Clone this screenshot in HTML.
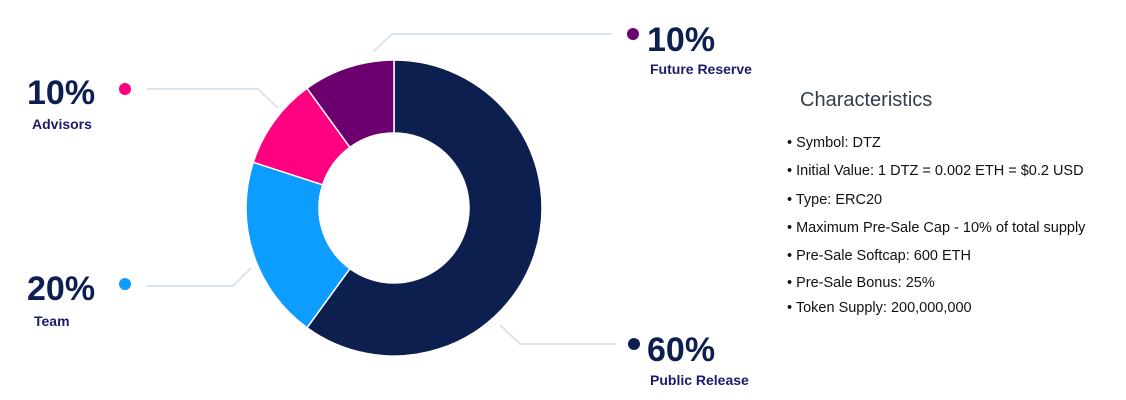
<!DOCTYPE html>
<html><head><meta charset="utf-8"><style>
body{margin:0;background:#fff;width:1126px;height:400px;overflow:hidden;font-family:"Liberation Sans",sans-serif}
svg{display:block}
.pct{font-size:34px;font-weight:bold;fill:#0c1f4f}
.lbl{font-size:14px;font-weight:bold;fill:#1b1b6b}
.item{font-size:14.5px;fill:#111}
</style></head><body>
<svg width="1126" height="400">
<g id="slices"></g>
<g fill="none" stroke="#dde5ec" stroke-width="2">
<polyline points="147,89 258,89 278,108"/>
<polyline points="147,286 233,286 251,268"/>
<polyline points="373,52 392,34 612,34"/>
<polyline points="500,325 520,344 615,344"/>
</g>
<g><circle cx="125" cy="89" r="6" fill="#ff0080"/><text class="pct" x="27" y="104">10%</text><text class="lbl" x="32" y="129">Advisors</text></g>
<g><circle cx="125" cy="284" r="6" fill="#0d9cff"/><text class="pct" x="27" y="300">20%</text><text class="lbl" x="34" y="326">Team</text></g>
<g><circle cx="633" cy="34" r="6" fill="#6b006e"/><text class="pct" x="647" y="51">10%</text><text class="lbl" x="650" y="74">Future Reserve</text></g>
<g><circle cx="634" cy="344" r="6" fill="#0c1f4f"/><text class="pct" x="647" y="361">60%</text><text class="lbl" x="650" y="385">Public Release</text></g>
<text x="800" y="106" font-size="20" fill="#333d4d">Characteristics</text>
<g class="item">
<text class="item" x="787" y="147">• Symbol:  DTZ</text>
<text class="item" x="787" y="175">• Initial Value:  1 DTZ = 0.002 ETH = $0.2 USD</text>
<text class="item" x="787" y="204">• Type: ERC20</text>
<text class="item" x="787" y="232">•  Maximum Pre-Sale Cap - 10% of total supply</text>
<text class="item" x="787" y="260">•  Pre-Sale Softcap:  600 ETH</text>
<text class="item" x="787" y="287">• Pre-Sale Bonus: 25%</text>
<text class="item" x="787" y="312">• Token Supply: 200,000,000</text>
</g>
</svg>
<script>
const categories=["Public Release","Team","Advisors","Future Reserve"];
const values=[60,20,10,10];
const colors=["#0c1f4f","#0d9cff","#ff0080","#6b006e"];
const cx=394,cy=208,R=148,r=75;
const g=document.getElementById('slices');
const total=values.reduce((a,b)=>a+b,0);
function pt(a,rad){return [cx+rad*Math.sin(a),cy-rad*Math.cos(a)];}
let a0=0;
values.forEach((v,i)=>{
const a1=a0+v/total*2*Math.PI;const big=(a1-a0)>Math.PI?1:0;
const [x0,y0]=pt(a0,R),[x1,y1]=pt(a1,R),[x2,y2]=pt(a1,r),[x3,y3]=pt(a0,r);
const p=document.createElementNS('http://www.w3.org/2000/svg','path');
p.setAttribute('d',`M${x0},${y0}A${R},${R} 0 ${big} 1 ${x1},${y1}L${x2},${y2}A${r},${r} 0 ${big} 0 ${x3},${y3}Z`);
p.setAttribute('fill',colors[i]);p.setAttribute('stroke','#fff');p.setAttribute('stroke-width','1.5');


g.appendChild(p);a0=a1;});
</script>
</body></html>
